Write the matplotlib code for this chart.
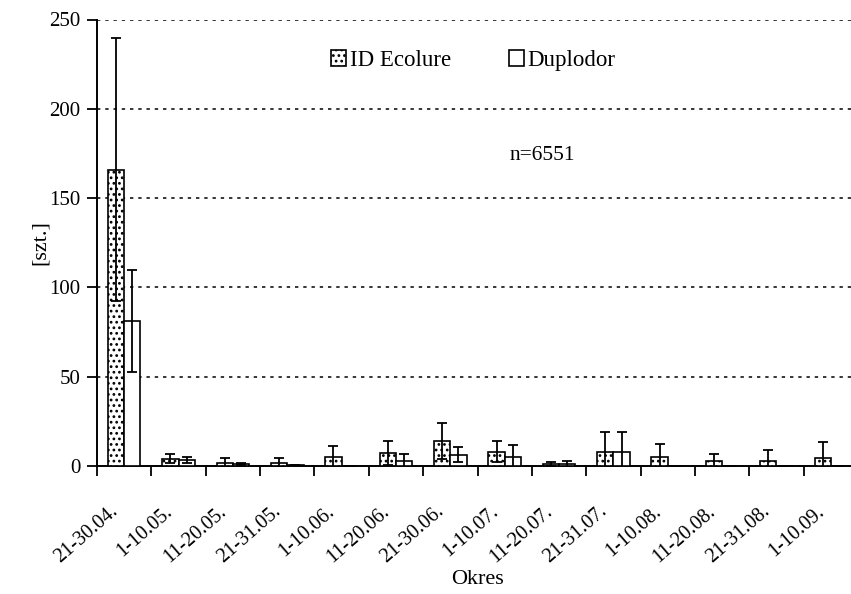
import matplotlib
matplotlib.use("Agg")
import matplotlib.pyplot as plt
import matplotlib.transforms as mtransforms
import numpy as np

categories = ["21-30.04.", "1-10.05.", "11-20.05.", "21-31.05.", "1-10.06.", "11-20.06.",
              "21-30.06.", "1-10.07.", "11-20.07.", "21-31.07.", "1-10.08.", "11-20.08.",
              "21-31.08.", "1-10.09."]
ecolure = [166, 4.1, 1.9, 1.9, 4.8, 7.3, 13.8, 8.0, 1.3, 7.6, 5.2, 3.0, 3.0, 4.5]
ecolure_err = [73.5, 2.4, 2.4, 2.4, 6.6, 6.7, 10.1, 5.8, 1.1, 11.6, 7.1, 3.9, 6.1, 8.8]
duplodor = [81, 3.4, 1.0, 0.3, 0.0, 2.8, 6.3, 5.2, 1.3, 7.6, 0.2, 0.2, 0.2, 0.2]
duplodor_err = [28.5, 1.8, 0.6, 0.0, 0.0, 3.7, 4.3, 6.5, 1.7, 11.6, 0.0, 0.0, 0.0, 0.0]
yticks = [0, 50, 100, 150, 200, 250]

plt.rcParams['font.family'] = ['Liberation Serif', 'DejaVu Serif']
plt.rcParams['hatch.color'] = '#9a9a9a'
plt.rcParams['hatch.linewidth'] = 1.2

fig = plt.figure(figsize=(8.51, 5.94), dpi=100)
ax = fig.add_axes([97/851, 1 - 466/594, (858-97)/851, (466-19.5)/594])

x = np.arange(len(categories))
w = 0.3
ekw = dict(elinewidth=1.3, capthick=1.3, ecolor='black')
ax.bar(x - w/2, ecolure, w, yerr=ecolure_err, capsize=3.5, facecolor='white',
       edgecolor='black', linewidth=1.2, hatch='...', error_kw=ekw, label='ID Ecolure', zorder=3)
ax.bar(x + w/2, duplodor, w, yerr=duplodor_err, capsize=3.5, facecolor='white',
       edgecolor='black', linewidth=1.2, error_kw=ekw, label='Duplodor', zorder=3)

ax.set_xlim(-0.5, len(categories) - 0.5)
ax.set_ylim(0, 250)
ax.set_yticks(yticks)
ax.yaxis.grid(True, linestyle=(0, (2.2, 3.2)), color='black', linewidth=1.1)
ax.set_axisbelow(True)

# category labels
ax.set_xticks(x)
ax.set_xticklabels([])
ax.tick_params(axis='x', which='major', length=0)
blend = mtransforms.blended_transform_factory(ax.transData, ax.transAxes)
shift = mtransforms.ScaledTranslation(-9/100, -43/100, fig.dpi_scale_trans)
for xi, lab in zip(x, categories):
    ax.text(xi, 0, lab, transform=blend + shift, rotation=41, ha='right', va='center',
            rotation_mode='anchor', fontsize=14.5)

ax.set_xticks(np.arange(len(categories)) - 0.5, minor=True)
ax.tick_params(axis='x', which='minor', length=7, width=1.3, direction='out')
ax.tick_params(axis='y', length=7, width=1.3, direction='out', labelsize=15, pad=5)

for s in ['top', 'right']:
    ax.spines[s].set_visible(False)
for s in ['left', 'bottom']:
    ax.spines[s].set_linewidth(1.4)

ax.set_ylabel('[szt.]', fontsize=16, ha='center', va='center')
ax.yaxis.set_label_coords((40 - 97) / 761, 0.5)
ax.set_xlabel('Okres', fontsize=16, ha='center', va='center')
ax.xaxis.set_label_coords(0.5, (466 - 579) / 446.5)

leg = ax.legend(loc='center', bbox_to_anchor=(0.4946, 0.908), ncol=2, frameon=False,
                fontsize=16.5, handlelength=0.65, handleheight=0.65, handletextpad=0.15,
                columnspacing=2.55)
ax.text(0.585, 174, 'n=6551', transform=ax.get_yaxis_transform(), fontsize=15.5,
        ha='center', va='center')

fig.savefig('out.png', dpi=100)
